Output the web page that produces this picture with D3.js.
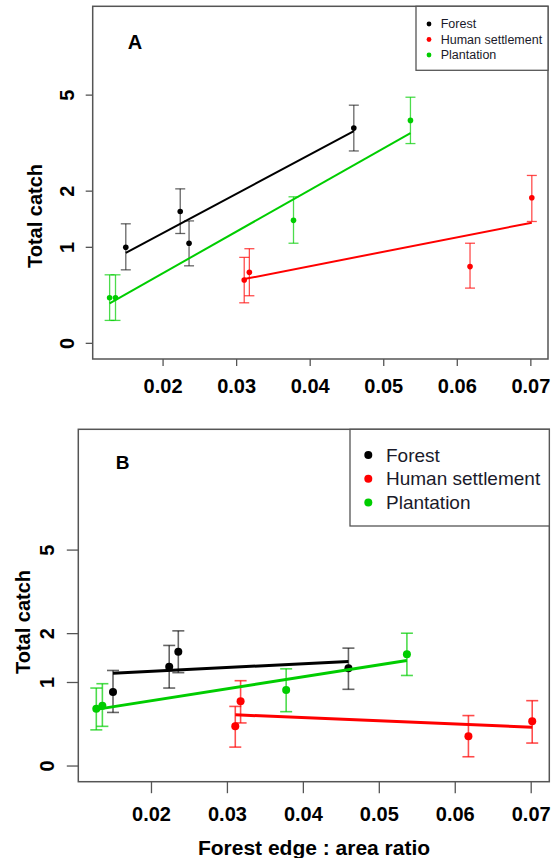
<!DOCTYPE html>
<html>
<head>
<meta charset="utf-8">
<script src="https://cdn.jsdelivr.net/npm/d3@7"></script>
<style>
  body { margin: 0; background: #ffffff; }
  text { font-family: "Liberation Sans", Arial, sans-serif; }
</style>
</head>
<body>
<div id="viz"></div>
<script>
// habitat groups and their colours
var habitats = ["Forest", "Human settlement", "Plantation"];
var habitatColours = ["#000000", "#ff0000", "#00cd00"];

// forest edge : area ratio of each site (same for both panels)
var forestX = [0.0150, 0.0224, 0.0236, 0.0460];
var settleX = [0.0311, 0.0318, 0.0618, 0.0702];
var plantX  = [0.0128, 0.0136, 0.0378, 0.0537];

// Panel A - total catch, lower and upper error bar
var forestA   = [1.00, 1.59, 1.06, 3.73];
var forestALo = [0.70, 1.21, 0.75, 3.01];
var forestAHi = [1.37, 2.05, 1.42, 4.58];
var settleA   = [0.58, 0.67, 0.74, 1.86];
var settleALo = [0.34, 0.41, 0.49, 1.41];
var settleAHi = [0.86, 0.98, 1.06, 2.36];
var plantA    = [0.39, 0.39, 1.43, 4.00];
var plantALo  = [0.18, 0.18, 1.06, 3.23];
var plantAHi  = [0.64, 0.64, 1.88, 4.91];
// fitted values at the first and last site of each habitat
var fitA = [[0.92, 3.63], [0.59, 1.39], [0.335, 3.56]];

// Panel B
var forestB   = [0.85, 1.28, 1.58, 1.25];
var forestBLo = [0.56, 0.91, 1.17, 0.89];
var forestBHi = [1.21, 1.72, 2.07, 1.66];
var settleB   = [0.39, 0.71, 0.28, 0.45];
var settleBLo = [0.17, 0.43, 0.08, 0.21];
var settleBHi = [0.64, 1.03, 0.52, 0.72];
var plantB    = [0.61, 0.65, 0.88, 1.53];
var plantBLo  = [0.35, 0.39, 0.57, 1.12];
var plantBHi  = [0.91, 0.98, 1.24, 2.01];
var fitB = [[1.16, 1.38], [0.53, 0.38], [0.60, 1.40]];

// tick labels
var xTicks = [0.02, 0.03, 0.04, 0.05, 0.06, 0.07];
var yTicks = [0, 1, 2, 5];

var width = 556;
var height = 858;

const svg = d3.select("#viz")
              .append("svg")
              .attr("width", width)
              .attr("height", height);

// build a list of point objects for one habitat
function makeSeries(xs, ys, lo, hi)
{
  return xs.map(function(x, i) {
    return {x: x, y: ys[i], lo: lo[i], hi: hi[i]};
  });
}

var seriesA = [
  makeSeries(forestX, forestA, forestALo, forestAHi),
  makeSeries(settleX, settleA, settleALo, settleAHi),
  makeSeries(plantX, plantA, plantALo, plantAHi)
];
var seriesB = [
  makeSeries(forestX, forestB, forestBLo, forestBHi),
  makeSeries(settleX, settleB, settleBLo, settleBHi),
  makeSeries(plantX, plantB, plantBLo, plantBHi)
];

// draws one panel. y axis is log(catch + 1)
function drawPanel(cfg)
{
  var x = d3.scaleLinear()
            .domain(cfg.xDomain)
            .range([cfg.left, cfg.right]);
  var y = d3.scaleLinear()
            .domain(cfg.yDomain)
            .range([cfg.bottom, cfg.top]);
  var yv = function(v) { return y(Math.log1p(v)); };

  var g = svg.append("g");

  // box round plot
  g.append("rect")
   .attr("x", cfg.left)
   .attr("y", cfg.top)
   .attr("width", cfg.right - cfg.left)
   .attr("height", cfg.bottom - cfg.top)
   .attr("fill", "none")
   .attr("stroke", "#555")
   .attr("stroke-width", 1.5);

  // x axis
  var xAxis = g.append("g")
     .attr("transform", "translate(0," + cfg.bottom + ")")
     .call(d3.axisBottom(x)
             .tickValues(xTicks)
             .tickSize(cfg.tick)
             .tickPadding(cfg.xPad)
             .tickFormat(d3.format(".2f")));
  xAxis.select(".domain").remove();
  xAxis.selectAll("line").attr("stroke", "#555").attr("stroke-width", 1.3);
  xAxis.selectAll("text")
       .attr("fill", "#000")
       .style("font-family", "'Liberation Sans', Arial, sans-serif")
       .style("font-size", "20px")
       .style("font-weight", "bold");

  // y axis, labels turned like R's las = 0
  var yAxis = g.append("g")
     .attr("transform", "translate(" + cfg.left + ",0)");
  yAxis.selectAll("line")
       .data(yTicks)
       .enter()
       .append("line")
       .attr("x1", -cfg.tick)
       .attr("x2", 0)
       .attr("y1", yv)
       .attr("y2", yv)
       .attr("stroke", "#555")
       .attr("stroke-width", 1.3);
  yAxis.selectAll("text")
       .data(yTicks)
       .enter()
       .append("text")
       .attr("transform", function(d) {
         return "translate(" + (-cfg.yPad) + "," + yv(d) + ") rotate(-90)";
       })
       .attr("text-anchor", "middle")
       .attr("dy", "0.35em")
       .style("font-size", "20px")
       .style("font-weight", "bold")
       .text(function(d) { return d; });

  // y axis title
  g.append("text")
   .attr("transform", "translate(" + cfg.yTitleX + "," + cfg.yTitleY + ") rotate(-90)")
   .attr("text-anchor", "middle")
   .attr("dy", "0.35em")
   .style("font-size", "20px")
   .style("font-weight", "bold")
   .text("Total catch");

  // panel letter
  g.append("text")
   .attr("x", cfg.letterX)
   .attr("y", cfg.letterY)
   .attr("text-anchor", "middle")
   .attr("dy", "0.35em")
   .style("font-size", cfg.letterSize + "px")
   .style("font-weight", "bold")
   .text(cfg.letter);

  // fitted lines, error bars and points for each habitat
  cfg.series.forEach(function(s, i) {
    var col = habitatColours[i];
    var xs = s.map(function(d) { return d.x; });
    var x0 = d3.min(xs);
    var x1 = d3.max(xs);

    g.append("line")
     .attr("x1", x(x0))
     .attr("x2", x(x1))
     .attr("y1", yv(cfg.fits[i][0]))
     .attr("y2", yv(cfg.fits[i][1]))
     .attr("stroke", col)
     .attr("stroke-width", cfg.lineW);

    var bars = g.append("g")
                .attr("stroke", col)
                .attr("stroke-opacity", i == 0 ? 0.6 : 0.7)
                .attr("stroke-width", cfg.barW);
    s.forEach(function(d) {
      bars.append("line")
          .attr("x1", x(d.x)).attr("x2", x(d.x))
          .attr("y1", yv(d.lo)).attr("y2", yv(d.hi));
      bars.append("line")
          .attr("x1", x(d.x) - cfg.cap).attr("x2", x(d.x) + cfg.cap)
          .attr("y1", yv(d.lo)).attr("y2", yv(d.lo));
      bars.append("line")
          .attr("x1", x(d.x) - cfg.cap).attr("x2", x(d.x) + cfg.cap)
          .attr("y1", yv(d.hi)).attr("y2", yv(d.hi));
    });

    g.selectAll(".pt" + i)
     .data(s)
     .enter()
     .append("circle")
     .attr("class", "pt" + i)
     .attr("cx", function(d) { return x(d.x); })
     .attr("cy", function(d) { return yv(d.y); })
     .attr("r", cfg.r)
     .attr("fill", col);
  });

  // legend in the top right corner
  var lg = cfg.legend;
  g.append("rect")
   .attr("x", lg.x)
   .attr("y", cfg.top)
   .attr("width", cfg.right - lg.x)
   .attr("height", lg.bottom - cfg.top)
   .attr("fill", "#fff")
   .attr("stroke", "#555")
   .attr("stroke-width", 1.3);

  habitats.forEach(function(h, i) {
    var ly = lg.y0 + i * lg.step;
    g.append("circle")
     .attr("cx", lg.dotX)
     .attr("cy", ly)
     .attr("r", lg.r)
     .attr("fill", habitatColours[i]);
    g.append("text")
     .attr("x", lg.textX)
     .attr("y", ly)
     .attr("dy", "0.35em")
     .attr("fill", "#1a1a2a")
     .style("font-size", lg.size + "px")
     .text(h);
  });

  return x;
}

drawPanel({
  series: seriesA, fits: fitA,
  left: 92.7, right: 548, top: 6.3, bottom: 359,
  xDomain: [0.0105, 0.0724], yDomain: [-0.113, 2.433],
  tick: 7, xPad: 13, yPad: 26,
  yTitleX: 35, yTitleY: 216,
  letter: "A", letterX: 135, letterY: 42, letterSize: 20,
  lineW: 2, barW: 1.3, cap: 5, r: 2.8,
  legend: {x: 416, bottom: 70.3, y0: 24, step: 15.5, dotX: 429, textX: 440.7, r: 2.4, size: 12.5}
});

drawPanel({
  series: seriesB, fits: fitB,
  left: 78.3, right: 549.3, top: 429.3, bottom: 781.7,
  xDomain: [0.01043, 0.07245], yDomain: [-0.130, 2.794],
  tick: 11.5, xPad: 14, yPad: 31.6,
  yTitleX: 23, yTitleY: 622,
  letter: "B", letterX: 122.7, letterY: 462.3, letterSize: 19,
  lineW: 3, barW: 1.6, cap: 6, r: 4,
  legend: {x: 350, bottom: 526, y0: 455, step: 23.8, dotX: 368.3, textX: 386, r: 4, size: 19}
});

// shared x axis title under panel B
svg.append("text")
   .attr("x", 314)
   .attr("y", 847.7)
   .attr("text-anchor", "middle")
   .attr("dy", "0.35em")
   .style("font-size", "21px")
   .style("font-weight", "bold")
   .text("Forest edge : area ratio");
</script>
</body>
</html>
